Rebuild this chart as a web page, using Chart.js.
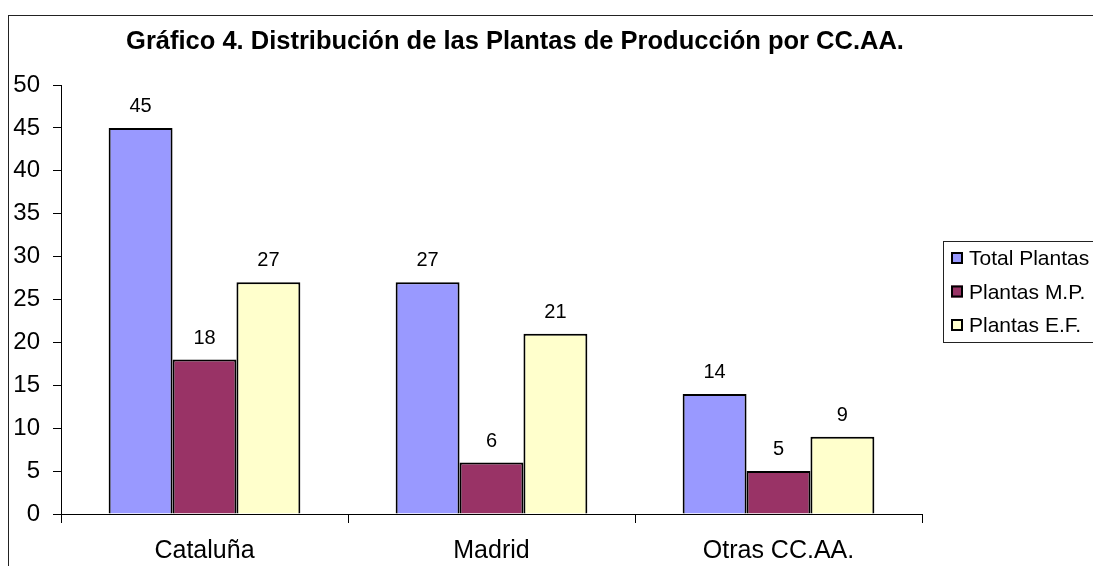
<!DOCTYPE html>
<html>
<head>
<meta charset="utf-8">
<title>Gráfico 4</title>
<script src="https://cdn.jsdelivr.net/npm/chart.js@4.4.1/dist/chart.umd.min.js"></script>
<style>
  html, body { margin: 0; padding: 0; background: #fff; }
  #wrap { width: 1093px; height: 566px; position: relative; }
</style>
</head>
<body>
<div id="wrap"><canvas id="chart"></canvas></div>
<script>
var titleText = 'Gráfico 4. Distribución de las Plantas de Producción por CC.AA.';
var categories = ['Cataluña', 'Madrid', 'Otras CC.AA.'];
var seriesNames = ['Total Plantas', 'Plantas M.P.', 'Plantas E.F.'];
var totalPlantas = [45, 27, 14];
var plantasMP = [18, 6, 5];
var plantasEF = [27, 21, 9];
var yMin = 0, yMax = 50, yStep = 5;

var FONT = 'Arial, "Liberation Sans", sans-serif';
Chart.defaults.font.family = FONT;
Chart.defaults.color = '#000';

// outer frame, title, value labels and legend drawn by hand
var decor = {
    id: 'decor',
    beforeDraw: function (chart) {
        var c = chart.ctx;
        c.save();
        c.fillStyle = '#fff';
        c.fillRect(0, 0, chart.width, chart.height);
        c.strokeStyle = '#222';
        c.lineWidth = 1;
        c.strokeRect(8.5, 15.5, 2000, 2000);
        c.restore();
    },
    afterDatasetsDraw: function (chart) {
        var c = chart.ctx;
        c.save();
        c.fillStyle = '#000';
        c.font = '20px ' + FONT;
        c.textAlign = 'center';
        c.textBaseline = 'alphabetic';
        chart.data.datasets.forEach(function (ds, i) {
            chart.getDatasetMeta(i).data.forEach(function (bar, j) {
                c.fillText(String(ds.data[j]), bar.x, bar.y - 16);
            });
        });
        c.restore();
    },
    afterDraw: function (chart) {
        var c = chart.ctx;
        c.save();
        // title
        c.fillStyle = '#000';
        c.font = 'bold 25.5px ' + FONT;
        c.textAlign = 'center';
        c.textBaseline = 'alphabetic';
        c.fillText(titleText, 515, 49);
        // legend
        c.strokeStyle = '#222';
        c.lineWidth = 1;
        c.strokeRect(943.5, 241.5, 300, 101);
        c.font = '21px ' + FONT;
        c.textAlign = 'left';
        var base = [265, 298.5, 332];
        chart.data.datasets.forEach(function (ds, i) {
            c.fillStyle = ds.backgroundColor;
            c.fillRect(951, base[i] - 13, 12, 12);
            c.lineWidth = 2;
            c.strokeStyle = '#000';
            c.strokeRect(952, base[i] - 12, 10, 10);
            c.fillStyle = '#000';
            c.fillText(ds.label, 969, base[i]);
        });
        c.restore();
    }
};

var ctx = document.getElementById('chart').getContext('2d');
var barStyle = { borderColor: '#000', borderWidth: 2, categoryPercentage: 0.668, barPercentage: 1 };

window.myChart = new Chart(ctx, {
    type: 'bar',
    data: {
        labels: categories,
        datasets: [
            Object.assign({ label: seriesNames[0], data: totalPlantas, backgroundColor: '#9999FF' }, barStyle),
            Object.assign({ label: seriesNames[1], data: plantasMP, backgroundColor: '#993366' }, barStyle),
            Object.assign({ label: seriesNames[2], data: plantasEF, backgroundColor: '#FFFFCC' }, barStyle)
        ]
    },
    options: {
        responsive: true,
        maintainAspectRatio: false,
        animation: false,
        devicePixelRatio: 1,
        layout: { padding: { top: 85, right: 171, left: 0, bottom: 0 } },
        plugins: {
            legend: { display: false },
            title: { display: false },
            tooltip: { enabled: false }
        },
        scales: {
            x: {
                offset: true,
                grid: { offset: true, drawOnChartArea: false, drawTicks: true, tickLength: 9, color: '#000', lineWidth: 1 },
                border: { display: true, color: '#000', width: 1 },
                ticks: { font: { size: 25 }, color: '#000', padding: 13, maxRotation: 0 },
                afterFit: function (s) { s.height = 52; }
            },
            y: {
                min: yMin,
                max: yMax,
                ticks: { stepSize: yStep, font: { size: 24 }, color: '#000', padding: 13 },
                grid: { drawOnChartArea: false, drawTicks: true, tickLength: 8, color: '#000', lineWidth: 1 },
                border: { display: true, color: '#000', width: 1 },
                afterFit: function (s) { s.width = 61; }
            }
        }
    },
    plugins: [decor]
});
</script>
</body>
</html>
